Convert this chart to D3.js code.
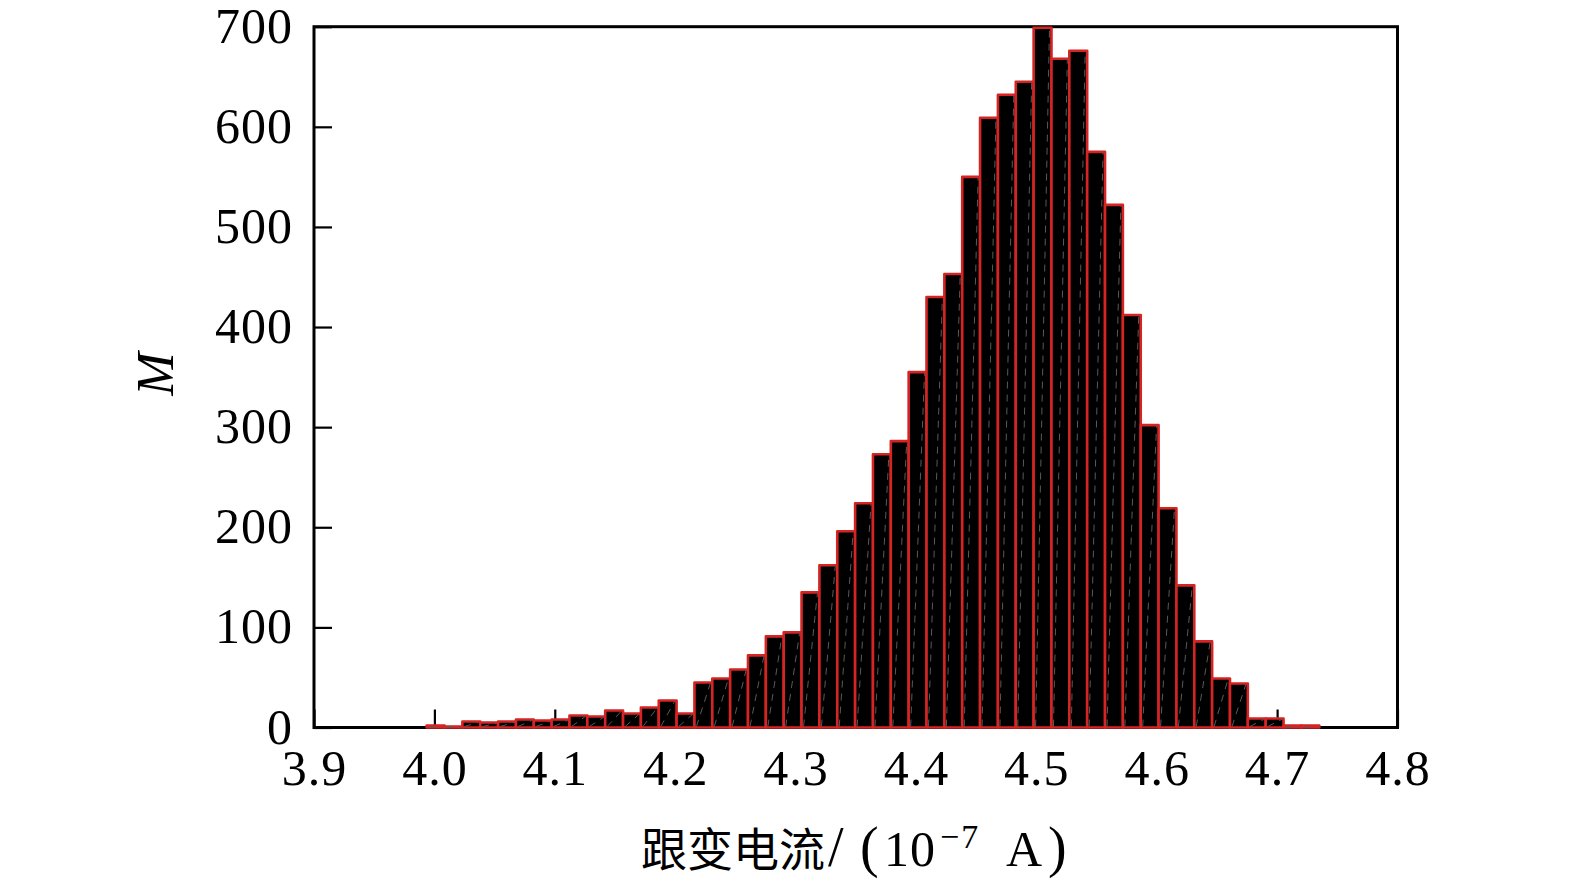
<!DOCTYPE html>
<html><head><meta charset="utf-8">
<script src="https://cdn.jsdelivr.net/npm/d3@7"></script>
<style>body{margin:0;background:#fff}</style>
</head><body>
<svg id="c" width="1575" height="887"></svg>
<script>
// Histogram counts per bin (M)
const counts = [2,1,6,5,6,8,7,8,12,11,17,14,20,27,14,45,49,58,72,91,95,135,162,196,224,273,286,355,430,453,550,609,632,645,699,668,676,575,522,412,302,219,142,86,49,44,9,9,2,2];
// Histogram range (10^-7 A)
const binStart = 3.9936;
const binEnd = 4.735;
const xTicks = [3.9,4.0,4.1,4.2,4.3,4.4,4.5,4.6,4.7,4.8];
const yTicks = [0,100,200,300,400,500,600,700];
const xDomain = [3.9,4.8];
const yDomain = [0,700];

const svg = d3.select("#c");
const L = 314, R = 1397.5, T = 26.7, B = 727.5;
const x = d3.scaleLinear().domain(xDomain).range([L, R]);
const y = d3.scaleLinear().domain(yDomain).range([B, T]);
const serif = "'Liberation Serif', 'Times New Roman', serif";

// axes (inner ticks)
const gx = svg.append("g").attr("transform", `translate(0,${B})`)
  .call(d3.axisBottom(x).tickValues(xTicks).tickSize(-18).tickFormat(d3.format(".1f")));
gx.select(".domain").remove();
gx.selectAll(".tick line").attr("stroke", "#000").attr("stroke-width", 2.2);
gx.selectAll(".tick text").attr("dy", null).attr("y", 57.5)
  .attr("font-family", serif).attr("font-size", 50).attr("letter-spacing", 1).attr("fill", "#000");

const gy = svg.append("g").attr("transform", `translate(${L},0)`)
  .call(d3.axisLeft(y).tickValues(yTicks).tickSize(-18).tickFormat(d3.format("d")));
gy.select(".domain").remove();
gy.selectAll(".tick line").attr("stroke", "#000").attr("stroke-width", 2.2);
gy.selectAll(".tick text").attr("x", -21).attr("dy", "0.31em")
  .attr("font-family", serif).attr("font-size", 50).attr("letter-spacing", 1).attr("fill", "#000");

// frame
svg.append("rect").attr("x", L).attr("y", T).attr("width", R - L).attr("height", B - T)
  .attr("fill", "none").attr("stroke", "#000").attr("stroke-width", 3);

// bars
const w = (binEnd - binStart) / counts.length;
const bins = counts.map((c, i) => ({x0: binStart + i * w, x1: binStart + (i + 1) * w, c}));
const g = svg.append("g");
g.selectAll("rect.bar").data(bins).join("rect").attr("class", "bar")
  .attr("x", d => x(d.x0)).attr("y", d => y(d.c))
  .attr("width", d => x(d.x1) - x(d.x0)).attr("height", d => y(0) - y(d.c))
  .attr("fill", "#000").attr("stroke", "#d42424").attr("stroke-width", 2.6)
  .attr("stroke-linejoin", "round");
g.selectAll("line.diag").data(bins).join("line").attr("class", "diag")
  .attr("x1", d => x(d.x0) + 2).attr("y1", d => y(0) - 1)
  .attr("x2", d => x(d.x1) - 2).attr("y2", d => y(d.c) + 1)
  .attr("stroke", "#5a5a5a").attr("stroke-width", 1).attr("stroke-dasharray", "7,6");

// axis labels
const xl = svg.append("text").attr("y", 866)
  .attr("font-family", serif).attr("font-size", 50).attr("fill", "#000");
xl.append("tspan").attr("x", 641).attr("font-family", "'Noto Sans CJK SC', sans-serif").attr("font-size", 46).text("跟变电流");
xl.append("tspan").attr("x", 828).attr("font-size", 56).text("/");
xl.append("tspan").attr("x", 860).attr("font-size", 56).text("(");
xl.append("tspan").attr("x", 884).attr("letter-spacing", 1).text("10");
xl.append("tspan").attr("x", 940).attr("font-size", 34).attr("dy", -18).attr("letter-spacing", 2).text("−7");
xl.append("tspan").attr("x", 1006).attr("dy", 18).text("A");
xl.append("tspan").attr("x", 1048).attr("font-size", 56).text(")");

svg.append("text").attr("transform", "translate(173,374) rotate(-90)")
  .attr("text-anchor", "middle").attr("font-family", serif).attr("font-style", "italic")
  .attr("font-size", 52).attr("fill", "#000").text("M");
</script>
</body></html>
